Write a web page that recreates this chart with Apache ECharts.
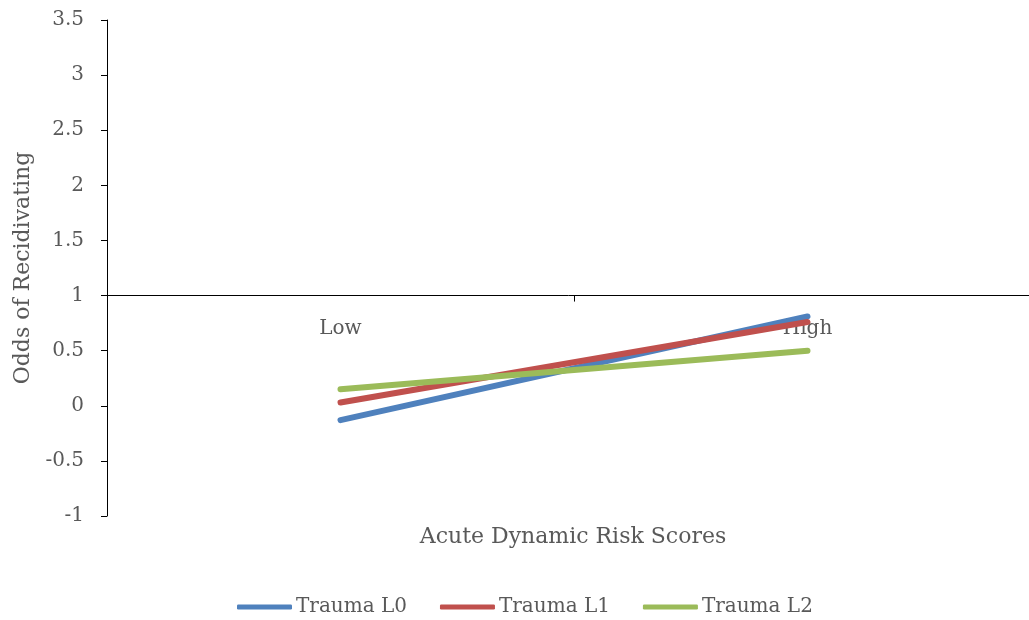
<!DOCTYPE html>
<html>
<head>
<meta charset="utf-8">
<script src="https://cdn.jsdelivr.net/npm/echarts@6/dist/echarts.min.js"></script>
<style>
html,body{margin:0;padding:0;background:#fff;}
#chart{width:1029px;height:620px;}
</style>
</head>
<body>
<div id="chart"></div>
<script>
const categories = ['Low', 'High'];
const seriesNames = ['Trauma L0', 'Trauma L1', 'Trauma L2'];
const traumaL0 = [-0.13, 0.81];
const traumaL1 = [0.03, 0.76];
const traumaL2 = [0.15, 0.50];
const yMin = -1, yMax = 3.5, yInterval = 0.5, xCrossAt = 1;
const yAxisTitle = 'Odds of Recidivating';
const xAxisTitle = 'Acute Dynamic Risk Scores';

const colors = ['#4F81BD', '#C0504D', '#9BBB59'];
const FONT = 'DejaVu Serif';
const TXT = '#595959';
const gridTop = 20, gridLeft = 107, gridW = 934, gridH = 496;
const xOffset = -(xCrossAt - yMin) / (yMax - yMin) * gridH;

const chart = echarts.init(document.getElementById('chart'), null, {renderer: 'canvas'});
const allData = [traumaL0, traumaL1, traumaL2];
chart.setOption({
  animation: false,
  color: colors,
  grid: {left: gridLeft, top: gridTop, width: gridW, height: gridH, containLabel: false, outerBoundsMode: 'none'},
  xAxis: {
    type: 'category',
    data: categories,
    boundaryGap: true,
    offset: xOffset,
    axisLine: {onZero: false, lineStyle: {color: '#000', width: 1}},
    axisTick: {show: true, length: 6, lineStyle: {color: '#000'}},
    axisLabel: {color: TXT, fontFamily: FONT, fontSize: 20, margin: 23},
    splitLine: {show: false}
  },
  yAxis: {
    type: 'value',
    min: yMin, max: yMax, interval: yInterval,
    name: yAxisTitle,
    nameLocation: 'middle',
    nameGap: 61,
    nameRotate: 90,
    nameTextStyle: {color: TXT, fontFamily: FONT, fontSize: 22},
    axisLine: {show: true, lineStyle: {color: '#000', width: 1}},
    axisTick: {show: true, length: 6, lineStyle: {color: '#000'}},
    axisLabel: {color: TXT, fontFamily: FONT, fontSize: 20, margin: 23},
    splitLine: {show: false}
  },
  legend: {
    data: seriesNames,
    top: 597,
    left: 237,
    padding: 0,
    icon: 'roundRect',
    itemWidth: 55,
    itemHeight: 5,
    itemGap: 33,
    textStyle: {color: TXT, fontFamily: FONT, fontSize: 20, padding: [0, 0, 0, -1]}
  },
  graphic: [{
    type: 'text',
    x: 573,
    y: 526,
    style: {text: xAxisTitle, fill: TXT, font: '22px "DejaVu Serif"', textAlign: 'center'}
  }],
  series: seriesNames.map((n, i) => ({
    name: n,
    type: 'line',
    data: allData[i],
    symbol: 'none',
    lineStyle: {width: 6, cap: 'round', color: colors[i]},
    itemStyle: {color: colors[i]}
  }))
});
</script>
</body>
</html>
